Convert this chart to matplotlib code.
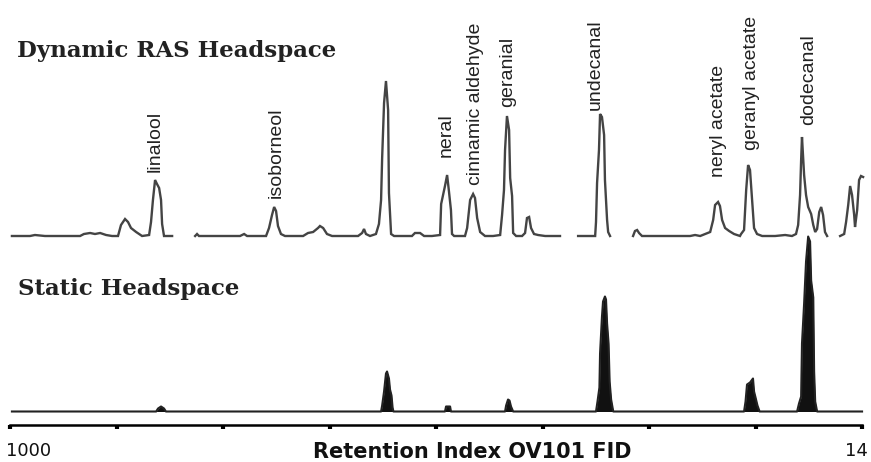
import numpy as np
import matplotlib.pyplot as plt

# retention index axis
ri_ticks = [1000, 1050, 1100, 1150, 1200, 1250, 1300, 1350, 1400]

# Dynamic RAS headspace trace (retention index, detector signal); nan = gap in the scan
dyn_ri = [1000.9, 1009.4, 1011.7, 1016.4, 1023.5, 1032.9, 1034.7, 1037.6, 1039.9, 1042.3,
          1045.1, 1047.9, 1050.7, 1052.1, 1054.0, 1055.4, 1056.8, 1059.2, 1062.0, 1065.3,
          1066.2, 1067.1, 1068.1, 1069.0, 1070.0, 1070.9, 1071.4, 1072.3, 1076.1, np.nan,
          1086.9, 1087.8, 1088.7, 1096.2, 1108.0, 1109.9, 1111.3, 1118.3, 1120.2, 1121.6,
          1123.0, 1124.0, 1124.9, 1125.8, 1127.2, 1129.1, 1137.6, 1139.9, 1142.3, 1144.6,
          1145.5, 1147.0, 1148.8, 1151.2, 1163.4, 1165.3, 1166.2, 1167.1, 1169.0, 1171.8,
          1173.2, 1174.2, 1174.7, 1175.6, 1176.5, 1177.5, 1177.9, 1178.9, 1180.3, 1188.7,
          1190.1, 1192.5, 1194.4, 1198.1, 1201.9, 1202.4, 1203.3, 1204.2, 1205.2, 1206.1,
          1207.0, 1207.5, 1208.5, 1213.6, 1214.6, 1216.0, 1217.4, 1218.3, 1219.3, 1220.7,
          1223.0, 1226.8, 1230.1, 1231.0, 1231.9, 1232.4, 1233.3, 1234.3, 1234.8, 1235.7,
          1236.2, 1237.6, 1240.4, 1241.8, 1242.7, 1243.7, 1244.6, 1246.0, 1247.9, 1251.2,
          1258.2, np.nan, 1266.7, 1272.3, 1274.7, 1275.1, 1275.6, 1276.5, 1277.0, 1277.9,
          1278.9, 1279.3, 1280.3, 1280.8, 1281.7, np.nan, 1292.5, 1293.4, 1294.4, 1295.3,
          1296.7, 1305.2, 1319.3, 1321.6, 1324.0, 1326.3, 1328.7, 1330.1, 1331.0, 1332.4,
          1333.3, 1334.3, 1335.7, 1337.6, 1339.9, 1342.7, 1343.2, 1344.6, 1345.6, 1346.5,
          1347.4, 1348.4, 1349.3, 1350.7, 1353.1, 1359.2, 1363.9, 1367.1, 1369.0, 1370.0,
          1370.9, 1371.4, 1371.8, 1372.8, 1373.7, 1374.7, 1376.1, 1377.1, 1378.0, 1378.9,
          1379.9, 1380.8, 1381.7, 1382.6, 1383.6, np.nan, 1389.7, 1391.6, 1392.5, 1393.5,
          1394.4, 1395.3, 1396.3, 1396.7, 1397.7, 1398.6, 1399.5, 1400.5]
dyn_sig = [0, 0, 1, 0, 0, 0, 2, 3, 2, 3,
           1, 0, 0, 11, 17, 14, 8, 4, 0, 1,
           14, 36, 56, 52, 48, 36, 12, 0, 0, np.nan,
           0, 2, 0, 0, 0, 2, 0, 0, 0, 8,
           21, 29, 25, 10, 2, 0, 0, 3, 4, 8,
           10, 8, 2, 0, 0, 3, 7, 2, 0, 2,
           12, 36, 78, 133, 155, 126, 43, 2, 0, 0,
           3, 3, 0, 0, 1, 32, 41, 50, 61, 44,
           26, 2, 0, 0, 8, 36, 42, 38, 18, 4,
           0, 0, 1, 21, 46, 86, 120, 106, 58, 40,
           3, 0, 0, 3, 18, 19, 8, 2, 1, 0,
           0, np.nan, 0, 0, 0, 14, 53, 86, 122, 119,
           101, 56, 16, 4, 0, np.nan, 0, 5, 6, 3,
           0, 0, 0, 1, 0, 2, 4, 16, 31, 34,
           30, 16, 8, 5, 2, 0, 2, 6, 46, 71,
           66, 36, 8, 2, 0, 0, 1, 0, 2, 11,
           41, 76, 99, 61, 41, 29, 22, 11, 4, 7,
           24, 29, 21, 4, 0, np.nan, 0, 2, 14, 31,
           50, 41, 21, 9, 26, 56, 60, 59]

# Static headspace trace
sta_ri = [1000.9, 1068.6, 1069.5, 1070.9, 1072.3, 1073.2,
          1174.2, 1174.7, 1175.6, 1176.5, 1177.0, 1177.9, 1178.4, 1179.1, 1179.6, 1180.0,
          1204.2, 1204.7, 1206.6, 1207.0,
          1232.4, 1232.9, 1233.8, 1234.5, 1235.2, 1236.2,
          1275.1, 1275.8, 1276.7, 1277.0, 1277.9, 1278.4, 1279.3, 1279.8, 1280.3, 1281.0,
          1281.5, 1282.2, 1283.2,
          1344.6, 1345.3, 1346.0, 1347.4, 1348.8, 1349.3, 1350.0, 1350.9, 1351.9,
          1369.5, 1370.4, 1371.4, 1371.8, 1372.8, 1373.7, 1374.7, 1375.6, 1376.1, 1377.1,
          1377.5, 1378.0, 1378.9, 1400.0]
sta_sig = [0, 0, 3, 5, 3, 0,
           0, 6, 20, 38, 40, 33, 22, 16, 4, 0,
           0, 5, 5, 0,
           0, 6, 12, 11, 5, 0,
           0, 10, 24, 58, 95, 110, 115, 112, 88, 68,
           30, 12, 0,
           0, 10, 27, 29, 33, 20, 14, 6, 0,
           0, 8, 15, 68, 108, 150, 175, 170, 131, 114,
           40, 10, 0, 0]

# peak labels on the dynamic trace
compounds = ['linalool', 'isoborneol', 'neral', 'cinnamic aldehyde', 'geranial',
             'undecanal', 'neryl acetate', 'geranyl acetate', 'dodecanal']
compound_ri = [1068.1, 1124.9, 1204.7, 1218.3, 1233.6, 1274.7, 1332.4, 1347.9, 1374.7]
label_level = [64, 38, 79, 51, 129, 126, 59, 86, 111]

DYN_BASE = 226
STA_BASE = 50.5
AXIS_Y = 37

fig = plt.figure(figsize=(8.71, 4.62), dpi=100)
ax = fig.add_axes([0, 0, 1, 1])
ax.set_xlim(995.3, 1404.2)
ax.set_ylim(0, 462)

dyn_ri = np.array(dyn_ri, dtype=float)
dyn_sig = np.array(dyn_sig, dtype=float)
ax.plot(dyn_ri, DYN_BASE + dyn_sig, color='#444444', lw=1.7, solid_joinstyle='miter')

sta_ri = np.array(sta_ri)
sta_sig = np.array(sta_sig, dtype=float)
ax.fill_between(sta_ri, STA_BASE, STA_BASE + sta_sig, color='#111111', lw=0)
ax.plot(sta_ri, STA_BASE + sta_sig, color='#222222', lw=1.5)

for name, x, lev in zip(compounds, compound_ri, label_level):
    ax.text(x, DYN_BASE + lev, name, rotation=90, ha='center', va='bottom',
            fontsize=14, family='Liberation Sans', color='#222222')

ax.text(1003.3, 405, 'Dynamic RAS Headspace', fontsize=16.5, family='DejaVu Serif',
        fontweight='bold', color='#222222', va='baseline', ha='left')
ax.text(1003.8, 167, 'Static Headspace', fontsize=16.5, family='DejaVu Serif',
        fontweight='bold', color='#222222', va='baseline', ha='left')

# x axis
for s in ['top', 'left', 'right']:
    ax.spines[s].set_visible(False)
ax.spines['bottom'].set_position(('data', AXIS_Y))
ax.spines['bottom'].set_bounds(ri_ticks[0], ri_ticks[-1])
ax.spines['bottom'].set_linewidth(1.8)
ax.set_xticks(ri_ticks)
ax.set_xticklabels([])
ax.tick_params(axis='x', direction='out', length=3, width=3)
ax.set_yticks([])

ax.text(998.1, 6, '1000', fontsize=13, family='DejaVu Sans', color='#111111',
        va='baseline', ha='left')
ax.text(1392.0, 6, '14', fontsize=13, family='DejaVu Sans',
        color='#111111', va='baseline', ha='left')
ax.text(1142.2, 4, 'Retention Index OV101 FID', fontsize=15, family='DejaVu Sans',
        fontweight='bold', color='#111111', va='baseline', ha='left')

fig.savefig('out.png', dpi=100)
